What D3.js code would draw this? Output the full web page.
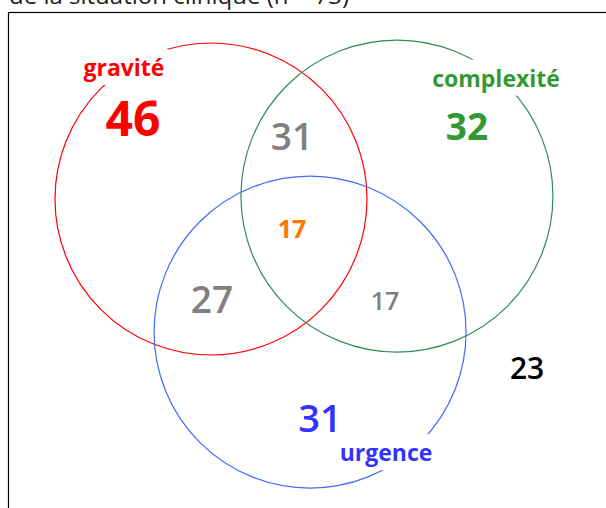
<!doctype html>
<html>
<head>
<meta charset="utf-8">
<style>
  body { margin: 0; background: #fff; }
  #chart { display: block; font-family: "Open Sans", sans-serif; }
</style>
</head>
<body>
<svg id="chart" width="606" height="508"></svg>
<script src="https://cdn.jsdelivr.net/npm/d3@7"></script>
<script>
// --- data ---
var title = "de la situation clinique (n = 73)";
var sets = ["gravité", "complexité", "urgence"];
var setStroke = ["#ff0000", "#2e8b57", "#3d6bff"];
var setText = ["#ff0000", "#339933", "#3333ff"];
// zone counts
var zones = ["gravité", "complexité", "urgence", "gravité+complexité", "gravité+urgence", "complexité+urgence", "les trois", "aucune"];
var counts = [46, 32, 31, 31, 27, 17, 17, 23];

// --- layout (venn units, radius = 1) ---
var centers = [[0, 0], [1.192, -0.019], [0.635, 0.853]];
var setLabelPos = [[-0.558, -0.79], [1.827, -0.72], [1.122, 1.68]];
var zonePos = [[-0.5, -0.404], [1.641, -0.378], [0.699, 1.494], [0.519, -0.314],
               [0.006, 0.731], [1.115, 0.712], [0.519, 0.25], [2.026, 1.154]];
var zoneColor = ["#ff0000", "#339933", "#3333ff", "#808080", "#808080", "#808080", "#ff7700", "#000000"];
var zoneSize = [48, 37, 38, 37, 37, 25, 25, 30];
var zoneWeight = [700, 700, 600, 600, 600, 600, 700, 600];

var svg = d3.select("#chart");

var x = d3.scaleLinear().domain([0, 1]).range([211, 367]);
var y = d3.scaleLinear().domain([0, 1]).range([199, 355]);
var r = function(v) { return x(v) - x(0); };

// title (mostly cut off at the top) and frame
svg.append("text")
  .attr("x", 9).attr("y", 4)
  .attr("font-size", 24)
  .attr("fill", "#222")
  .text(title);

svg.append("rect")
  .attr("x", 8.5).attr("y", 12.5)
  .attr("width", 700).attr("height", 600)
  .attr("fill", "none")
  .attr("stroke", "#000")
  .attr("stroke-width", 1.2);

svg.selectAll("circle.set")
  .data(sets)
  .enter().append("circle")
    .attr("class", "set")
    .attr("cx", function(d, i) { return x(centers[i][0]); })
    .attr("cy", function(d, i) { return y(centers[i][1]); })
    .attr("r", r(1))
    .attr("fill", "none")
    .attr("stroke", function(d, i) { return setStroke[i]; })
    .attr("stroke-width", 1.2);

// set names sit on the circle, with a white patch behind them
var lab = svg.selectAll("g.setlabel")
  .data(sets)
  .enter().append("g")
    .attr("class", "setlabel");

lab.append("text")
  .attr("x", function(d, i) { return x(setLabelPos[i][0]); })
  .attr("y", function(d, i) { return y(setLabelPos[i][1]); })
  .attr("text-anchor", "middle")
  .attr("font-size", 23)
  .attr("font-weight", 700)
  .attr("fill", function(d, i) { return setText[i]; })
  .text(function(d) { return d; });

lab.each(function() {
  var g = d3.select(this);
  var b = g.select("text").node().getBBox();
  g.insert("rect", "text")
    .attr("x", b.x - 3).attr("y", b.y - 2)
    .attr("width", b.width + 6).attr("height", b.height + 4)
    .attr("fill", "#fff");
});

svg.selectAll("text.count")
  .data(counts)
  .enter().append("text")
    .attr("class", "count")
    .attr("x", function(d, i) { return x(zonePos[i][0]); })
    .attr("y", function(d, i) { return y(zonePos[i][1]); })
    .attr("text-anchor", "middle")
    .attr("font-size", function(d, i) { return zoneSize[i]; })
    .attr("font-weight", function(d, i) { return zoneWeight[i]; })
    .attr("fill", function(d, i) { return zoneColor[i]; })
    .text(function(d) { return d; });
</script>
</body>
</html>
